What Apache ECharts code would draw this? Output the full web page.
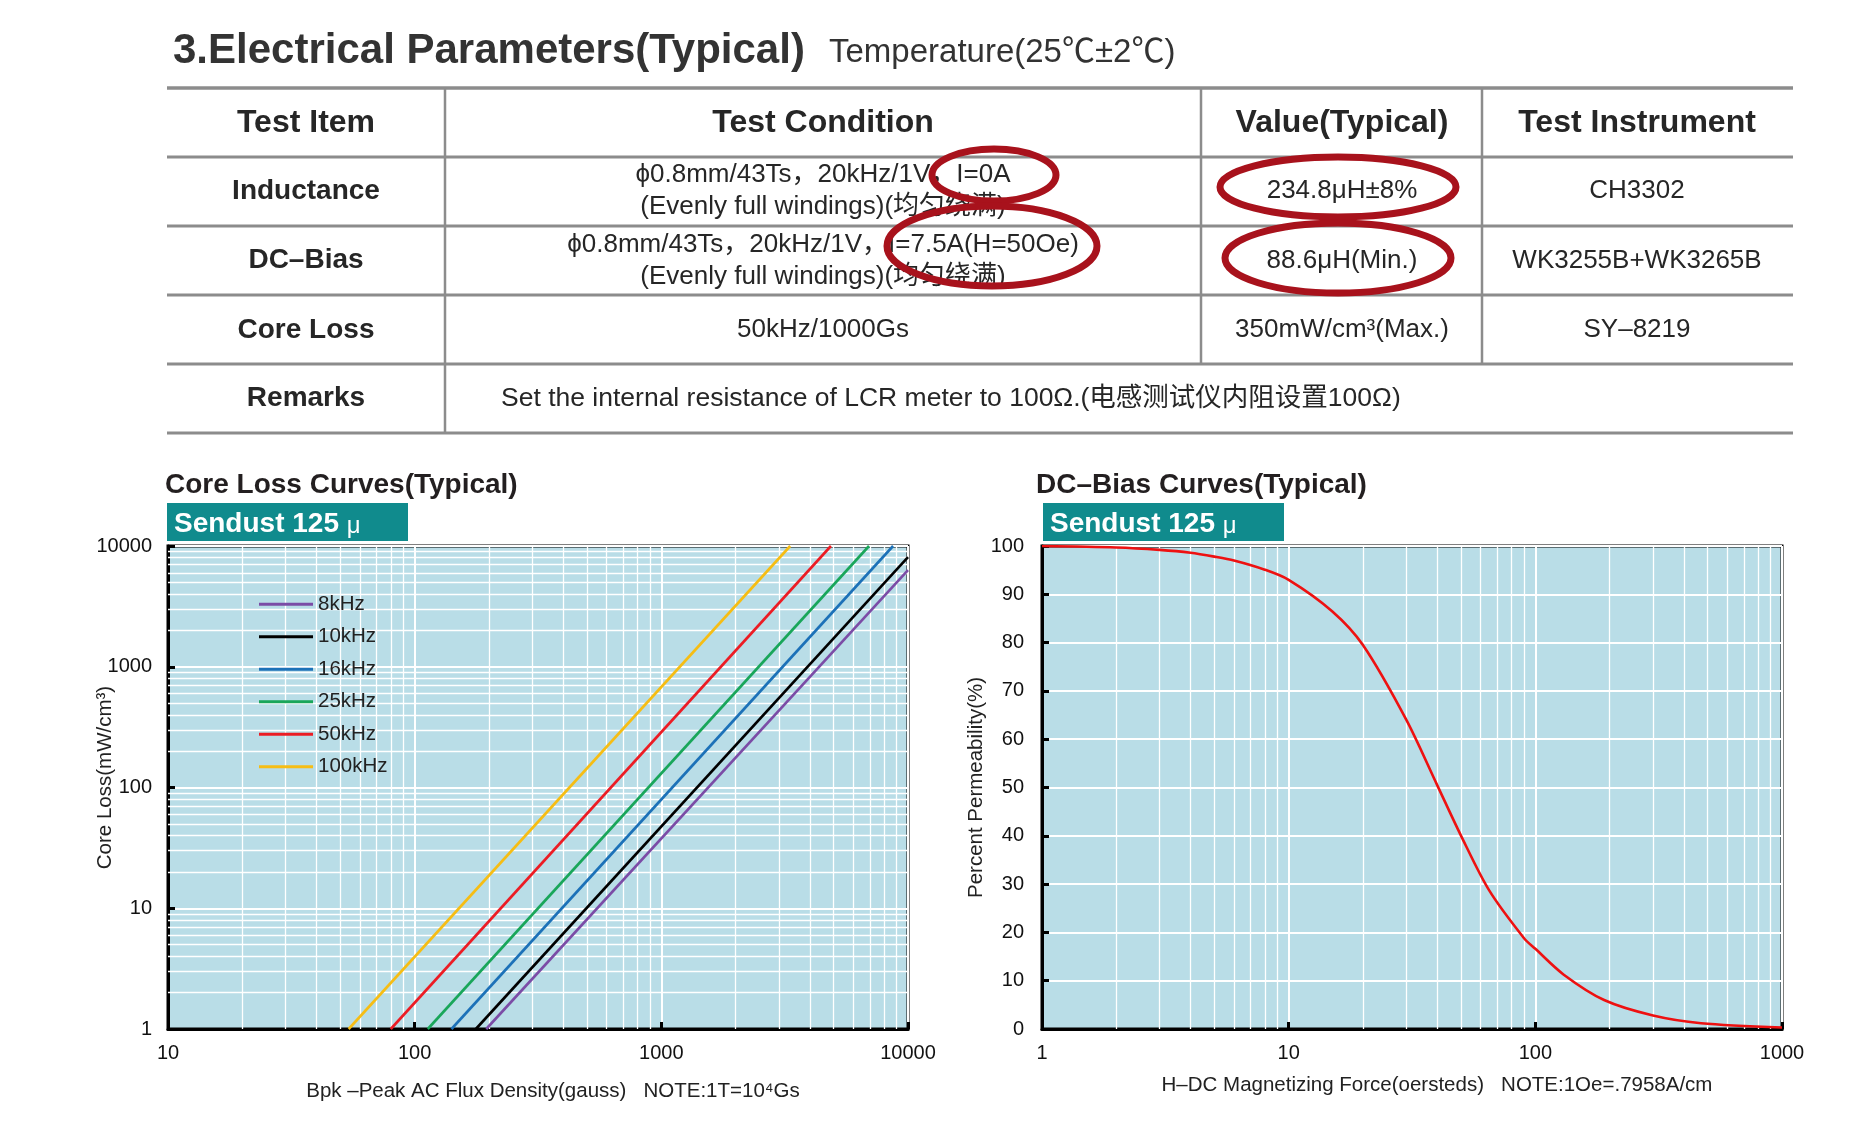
<!DOCTYPE html>
<html>
<head>
<meta charset="utf-8">
<title>Sendust 125μ</title>
<script src="https://cdn.jsdelivr.net/npm/echarts@6/dist/echarts.min.js"></script>
<style>
  html, body { margin: 0; padding: 0; background: #fff; }
  #main { width: 1874px; height: 1122px; }
</style>
</head>
<body>
<div id="main"></div>
<script>
const FONT = "'Liberation Sans', Arial, Helvetica, 'Noto Sans CJK SC', sans-serif"

// core loss (mW/cm3) against Bpk (gauss)
const coreLossNames = ['8kHz', '10kHz', '16kHz', '25kHz', '50kHz', '100kHz']
const coreLossColors = ['#7b4ca6', '#000000', '#1c71b8', '#19a65a', '#ec1c24', '#f6bd14']
const loss8k = [[195, 1], [10000, 6300]]
const loss10k = [[177, 1], [10000, 8100]]
const loss16k = [[141, 1], [8700, 10000]]
const loss25k = [[113, 1], [6950, 10000]]
const loss50k = [[80, 1], [4870, 10000]]
const loss100k = [[54, 1], [3330, 10000]]
const coreLossData = [loss8k, loss10k, loss16k, loss25k, loss50k, loss100k]

// percent permeability against H (oersteds)
const biasH = [1, 2, 3, 4, 5, 6, 8, 10, 15, 20, 30, 40, 50, 65, 90, 100, 130, 190, 300, 470, 1000]
const biasPerm = [100, 99.7, 99.2, 98.6, 97.8, 97, 95.1, 93, 86.5, 79.5, 64, 50.5, 40, 28.7, 18.8, 16.6, 11.3, 6, 2.8, 1.2, 0.3]

// log grid minor lines
const lossMinorX = [20, 30, 40, 50, 60, 70, 80, 90, 200, 300, 400, 500, 600, 700, 800, 900, 2000, 3000, 4000, 5000, 6000, 7000, 8000, 9000]
const lossMinorY = [2, 3, 4, 5, 6, 7, 8, 9, 20, 30, 40, 50, 60, 70, 80, 90, 200, 300, 400, 500, 600, 700, 800, 900, 2000, 3000, 4000, 5000, 6000, 7000, 8000, 9000]
const biasMinorX = [2, 3, 4, 5, 6, 7, 8, 9, 20, 30, 40, 50, 60, 70, 80, 90, 200, 300, 400, 500, 600, 700, 800, 900]

// table texts
const tableHeader = ['Test Item', 'Test Condition', 'Value(Typical)', 'Test Instrument']
const tableItems = ['Inductance', 'DC–Bias', 'Core Loss', 'Remarks']
const tableCondition = [
  ['ϕ0.8mm/43Ts，20kHz/1V，I=0A', '(Evenly full windings)(均匀绕满)'],
  ['ϕ0.8mm/43Ts，20kHz/1V，I=7.5A(H=50Oe)', '(Evenly full windings)(均匀绕满)'],
  ['50kHz/1000Gs']
]
const tableValue = ['234.8μH±8%', '88.6μH(Min.)', '350mW/cm³(Max.)']
const tableInstrument = ['CH3302', 'WK3255B+WK3265B', 'SY–8219']
const remarkText = 'Set the internal resistance of LCR meter to 100Ω.(电感测试仪内阻设置100Ω)'

const chart = echarts.init(document.getElementById('main'))

const rowLines = [88, 157, 226, 295, 364, 433]
const rowMid = [123, 191, 260.5, 330, 398.6]
const colMid = [306, 823, 1342, 1637]
const lineGray = '#8c8c8c'
const textDark = '#262626'

function txt(x, y, text, size, weight, align) {
  return {
    type: 'text', x: x, y: y, z: 5,
    style: {
      text: text, fontSize: size, fontWeight: weight || 'normal', fontFamily: FONT,
      fill: textDark, align: align || 'center', verticalAlign: 'middle'
    }
  }
}
function hline(y, w) {
  return { type: 'line', z: 4, shape: { x1: 167, y1: y, x2: 1793, y2: y }, style: { stroke: lineGray, lineWidth: w } }
}
function vline(x, y2) {
  return { type: 'line', z: 4, shape: { x1: x, y1: 88, x2: x, y2: y2 }, style: { stroke: lineGray, lineWidth: 2.5 } }
}
function ring(cx, cy, rx, ry) {
  return { type: 'ellipse', z: 10, shape: { cx: cx, cy: cy, rx: rx, ry: ry }, style: { fill: null, stroke: '#a8121c', lineWidth: 7 } }
}
function band(x, titleX, title) {
  return [
    { type: 'text', x: titleX, y: 485, style: { text: title, fontSize: 28, fontWeight: 'bold', fontFamily: FONT, fill: '#231f20', verticalAlign: 'middle' } },
    { type: 'rect', x: x, y: 503, shape: { width: 241, height: 38 }, style: { fill: '#108b8d' } },
    {
      type: 'text', x: x + 7, y: 524, z: 3,
      style: {
        text: '{b|Sendust 125 }{m|μ}', verticalAlign: 'middle',
        rich: {
          b: { fontSize: 28, fontWeight: 'bold', fontFamily: FONT, fill: '#fff' },
          m: { fontSize: 24, fontFamily: FONT, fill: '#fff', padding: [4, 0, 0, 0] }
        }
      }
    }
  ]
}

const graphics = []
graphics.push({
  type: 'text', x: 173, y: 51,
  style: { text: '3.Electrical Parameters(Typical)', fontSize: 42, fontWeight: 'bold', fontFamily: FONT, fill: '#333', verticalAlign: 'middle' }
})
graphics.push({
  type: 'text', x: 829, y: 53,
  style: { text: 'Temperature(25℃±2℃)', fontSize: 33, fontFamily: FONT, fill: '#333', verticalAlign: 'middle' }
})
rowLines.forEach((y, i) => graphics.push(hline(y, i === 0 ? 3.5 : 3)))
graphics.push(vline(445, 433), vline(1201, 364), vline(1482, 364))
tableHeader.forEach((t, i) => graphics.push(txt(colMid[i], rowMid[0], t, 32, 'bold')))
tableItems.forEach((t, i) => graphics.push(txt(colMid[0], rowMid[i + 1], t, 28, 'bold')))
tableCondition.forEach((lines, i) => {
  if (lines.length === 1) {
    graphics.push(txt(colMid[1], rowMid[i + 1], lines[0], 26))
  } else {
    graphics.push(txt(colMid[1], rowMid[i + 1] - 16, lines[0], 26))
    graphics.push(txt(colMid[1], rowMid[i + 1] + 16, lines[1], 26))
  }
})
tableValue.forEach((t, i) => graphics.push(txt(colMid[2], rowMid[i + 1], t, 26)))
tableInstrument.forEach((t, i) => graphics.push(txt(colMid[3], rowMid[i + 1], t, 26)))
graphics.push(txt(501, rowMid[4], remarkText, 26.5, 'normal', 'left'))
graphics.push(ring(994, 175, 62, 26), ring(992, 246, 105, 40), ring(1338, 187, 118, 30), ring(1338, 258, 113, 35))
band(167, 165, 'Core Loss Curves(Typical)').forEach(g => graphics.push(g))
band(1043, 1036, 'DC–Bias Curves(Typical)').forEach(g => graphics.push(g))

const labelStyle = { color: '#111', fontSize: 20, fontFamily: FONT }
const nameStyle = { color: '#222', fontSize: 20.5, fontFamily: FONT }
const blackLine = { lineStyle: { color: '#000', width: 3 } }
const inTick = { inside: true, length: 7, lineStyle: { color: '#000', width: 3 } }
const whiteSplit = { lineStyle: { color: '#fff', width: 2 } }
const plainNum = v => String(Math.round(v))

function minorLines(xs, ys) {
  return {
    silent: true, z: 1, animation: false,
    symbol: ['none', 'none'],
    label: { show: false },
    emphasis: { disabled: true },
    lineStyle: { color: '#fff', width: 1.3, type: 'solid' },
    data: xs.map(v => ({ xAxis: v })).concat(ys.map(v => ({ yAxis: v })))
  }
}

const series = coreLossNames.map((name, i) => ({
  name: name,
  type: 'line',
  xAxisIndex: 0,
  yAxisIndex: 0,
  showSymbol: false,
  symbol: 'none',
  z: 3,
  lineStyle: { width: 2.6, color: coreLossColors[i] },
  itemStyle: { color: coreLossColors[i] },
  data: coreLossData[i],
  markLine: i === 0 ? minorLines(lossMinorX, lossMinorY) : undefined
}))
series.push({
  name: 'DC–Bias',
  type: 'line',
  xAxisIndex: 1,
  yAxisIndex: 1,
  showSymbol: false,
  symbol: 'none',
  smooth: 0.3,
  z: 3,
  lineStyle: { width: 2.6, color: '#ee1111' },
  data: biasH.map((h, i) => [h, biasPerm[i]]),
  markLine: minorLines(biasMinorX, [])
})

chart.setOption({
  animation: false,
  backgroundColor: '#fff',
  graphic: graphics,
  legend: {
    data: coreLossNames,
    orient: 'vertical',
    left: 259,
    top: 594,
    padding: 0,
    itemWidth: 54,
    itemHeight: 3,
    itemGap: 12,
    icon: 'rect',
    selectedMode: false,
    textStyle: { fontSize: 20.5, lineHeight: 20.5, color: '#222', fontFamily: FONT }
  },
  grid: [
    { left: 168, top: 546, width: 740, height: 483, show: true, backgroundColor: '#b9dde7', borderColor: '#000', borderWidth: 3 },
    { left: 1042, top: 546, width: 740, height: 483, show: true, backgroundColor: '#b9dde7', borderColor: '#000', borderWidth: 3 }
  ],
  xAxis: [
    {
      type: 'log', gridIndex: 0, logBase: 10, min: 10, max: 10000,
      axisLine: blackLine, axisTick: inTick, splitLine: whiteSplit,
      axisLabel: Object.assign({ margin: 14, formatter: plainNum, showMinLabel: true, showMaxLabel: true }, labelStyle),
      name: 'Bpk –Peak AC Flux Density(gauss)   NOTE:1T=10⁴Gs',
      nameLocation: 'middle', nameGap: 52, nameMoveOverlap: false,
      nameTextStyle: Object.assign({ padding: [0, 0, 0, 30] }, nameStyle)
    },
    {
      type: 'log', gridIndex: 1, logBase: 10, min: 1, max: 1000,
      axisLine: blackLine, axisTick: inTick, splitLine: whiteSplit,
      axisLabel: Object.assign({ margin: 14, formatter: plainNum, showMinLabel: true, showMaxLabel: true }, labelStyle),
      name: 'H–DC Magnetizing Force(oersteds)   NOTE:1Oe=.7958A/cm',
      nameLocation: 'middle', nameGap: 46, nameMoveOverlap: false,
      nameTextStyle: Object.assign({ padding: [0, 0, 0, 50] }, nameStyle)
    }
  ],
  yAxis: [
    {
      type: 'log', gridIndex: 0, logBase: 10, min: 1, max: 10000,
      axisLine: blackLine, axisTick: inTick, splitLine: whiteSplit,
      axisLabel: Object.assign({ margin: 16, formatter: plainNum, showMinLabel: true, showMaxLabel: true }, labelStyle),
      name: 'Core Loss(mW/cm³)', nameLocation: 'middle', nameGap: 52, nameMoveOverlap: false,
      nameTextStyle: Object.assign({ padding: [0, 0, 0, 20] }, nameStyle)
    },
    {
      type: 'value', gridIndex: 1, min: 0, max: 100, interval: 10,
      axisLine: blackLine, axisTick: inTick, splitLine: whiteSplit,
      axisLabel: Object.assign({ margin: 18 }, labelStyle),
      name: 'Percent Permeability(%)', nameLocation: 'middle', nameGap: 55, nameMoveOverlap: false,
      nameTextStyle: nameStyle
    }
  ],
  series: series
})
</script>
</body>
</html>
